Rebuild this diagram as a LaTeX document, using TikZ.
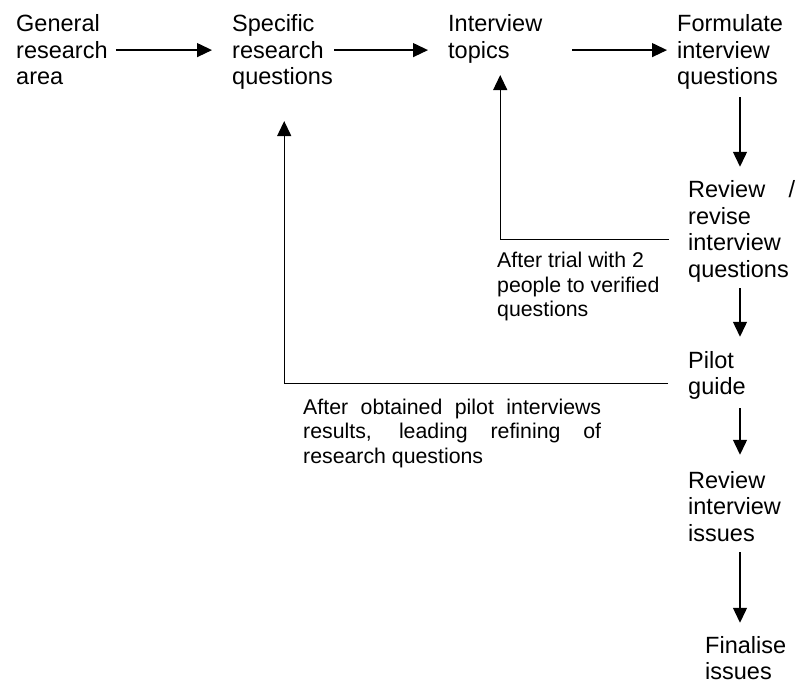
\documentclass[tikz,border=0pt]{standalone}
\usepackage{fontspec}
\setmainfont{Liberation Sans}
\usetikzlibrary{arrows.meta,calc}

\tikzset{
  % multi-line nodes without a text width sit on their last baseline
  stage/.style={anchor=base west, inner sep=0pt, align=left,
                font=\fontsize{23.5}{26.5}\selectfont},
  note/.style={anchor=base west, inner sep=0pt, align=left,
               font=\fontsize{21.3}{24.5}\selectfont},
  flow/.style={line width=1.3pt, -{Triangle[length=15pt,width=14pt]}},
}

\begin{document}
\begin{tikzpicture}[x=1pt, y=1pt]
  % page
  \fill[white] (0,0) rectangle (800,-684);
  \useasboundingbox (0,0) rectangle (800,-684);

  % top row
  \node[stage] (gen)    at (16,-85)    {General\\research\\area};
  \node[stage] (spec)   at (232,-85)   {Specific\\research\\questions};
  \node[stage] (topics) at (448,-58.5) {Interview\\topics};
  \node[stage] (form)   at (677,-85)   {Formulate\\interview\\questions};

  % right-hand column (justified boxes sit on their first baseline)
  \node[stage, text width=107pt, align=justify] (rev) at (688,-198)
    {Review /\linebreak revise\newline interview\newline questions};
  \node[stage] (pilot)     at (688,-394.5) {Pilot\\guide};
  \node[stage] (revissues) at (688,-541)   {Review\\interview\\issues};
  \node[stage] (final)     at (705,-679.5) {Finalise\\issues};

  % feedback notes
  \node[note] (trialnote) at (497,-317)
    {After trial with 2\\people to verified\\questions};
  \node[note, text width=298pt, align=justify] (pilotnote) at (303,-414)
    {After obtained pilot interviews\linebreak results, leading refining of\linebreak research questions};

  % column of downward arrows
  \coordinate (col) at (740,0);

  % forward flow along the top row
  \draw[flow] ([xshift=8pt]gen.east) -- ([xshift=-20pt]gen.east -| spec.west);
  \draw[flow] ([xshift=1pt]gen.east -| spec.east) -- ([xshift=-20pt]gen.east -| topics.west);
  \draw[flow] ([xshift=30pt]gen.east -| topics.east) -- ([xshift=-10pt]gen.east -| form.west);

  % downward flow
  \draw[flow] ([yshift=-7pt]col |- form.south) -- ([yshift=14pt]col |- rev.north);
  \draw[flow] ([yshift=-5.5pt]col |- rev.south) -- ([yshift=14pt]col |- pilot.north);
  \draw[flow] ([yshift=-8.5pt]col |- pilot.south) -- ([yshift=16pt]col |- revissues.north);
  \draw[flow] ([yshift=-11pt]col |- revissues.south) -- ([yshift=13pt]col |- final.north);

  % feedback loops
  \draw[flow] ($(rev.west)+(-19,-8)$) -| ($(topics.south)+(5,-11.5)$);
  \draw[flow] ($(pilot.west)+(-20,-8)$) -| ($(spec.south)+(1.7,-31)$);
\end{tikzpicture}
\end{document}
